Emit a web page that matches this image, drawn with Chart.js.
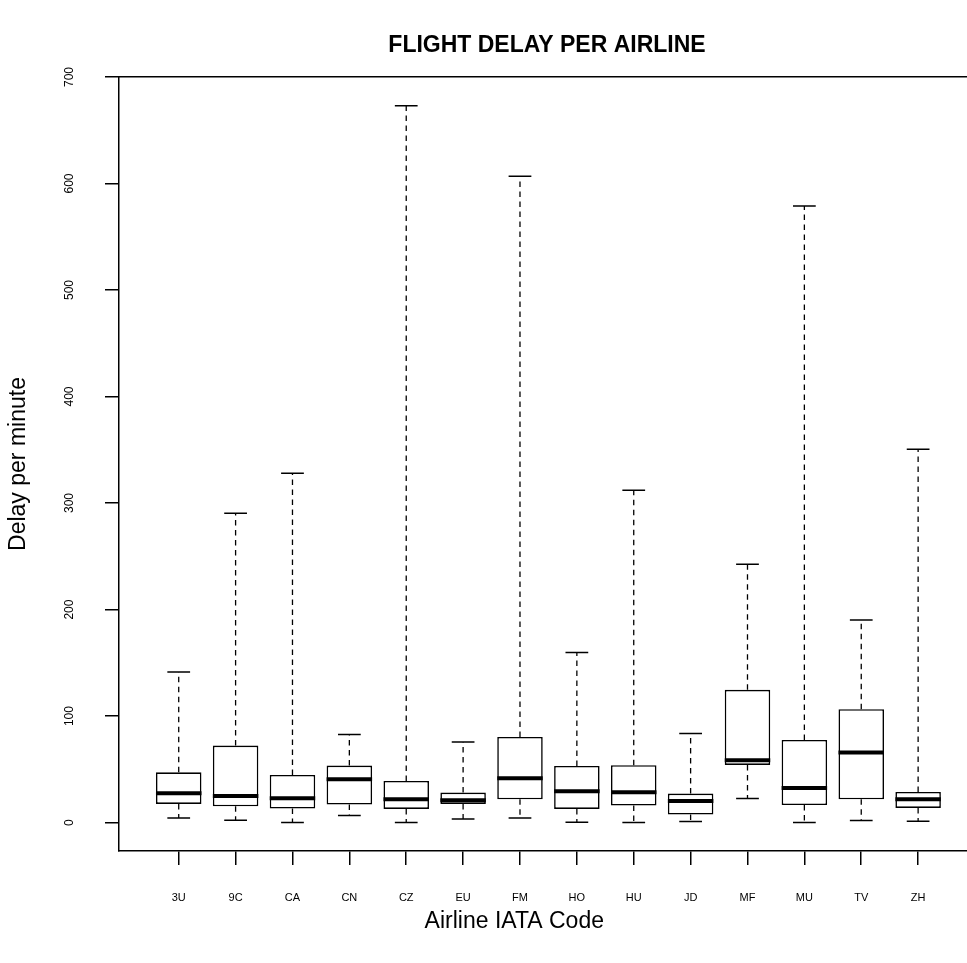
<!DOCTYPE html>
<html>
<head>
<meta charset="utf-8">
<script src="https://cdn.jsdelivr.net/npm/chart.js@4.4.0/dist/chart.umd.min.js"></script>
<style>
html,body{margin:0;padding:0;background:#fff;overflow:hidden;width:967px;height:963px;}
canvas{display:block;}
</style>
</head>
<body>
<canvas id="c" width="980" height="963"></canvas>
<script>
// ---- data ----
const categories   = ['3U','9C','CA','CN','CZ','EU','FM','HO','HU','JD','MF','MU','TV','ZH'];
const lowerWhisker = [4.3, 2.2, 0.0, 6.6, 0.0, 3.4, 4.3, 0.3, 0.0, 0.9, 22.5, 0.0, 1.9, 1.2];
const q1           = [17.5, 15.3, 13.1, 16.9, 12.8, 17.5, 21.9, 12.8, 16.0, 7.5, 54.1, 16.5, 21.9, 13.7];
const median       = [27.5, 25.0, 22.8, 40.7, 21.9, 21.0, 41.6, 29.4, 28.5, 20.3, 58.5, 32.5, 65.7, 21.9];
const q3           = [47.2, 72.3, 44.7, 53.5, 39.1, 28.2, 80.4, 53.2, 53.8, 27.2, 124.6, 77.6, 106.4, 28.7];
const upperWhisker = [141.3, 290.3, 328.0, 82.6, 673.1, 75.7, 606.7, 159.6, 311.9, 83.6, 242.5, 578.9, 190.2, 350.6];
const yTickValues  = [0, 100, 200, 300, 400, 500, 600, 700];

const TITLE = 'FLIGHT DELAY PER AIRLINE';
const X_TITLE = 'Airline IATA Code';
const Y_TITLE = 'Delay per minute';

// ---- geometry in data units of the category axis ----
const BOX_WIDTH = 0.8;
const STAPLE_WIDTH = 0.4;
const X_MIN = -0.05, X_MAX = 15;
const Y_MIN = -26.7, Y_MAX = 700;

const FONT = "'Liberation Sans', Arial, Helvetica, sans-serif";
Chart.defaults.font.family = FONT;
Chart.defaults.color = '#000';

const pos = categories.map((c, i) => i + 1);

const boxData = pos.map((p, i) => ({x: p, y: [q1[i], q3[i]]}));

const whiskerData = [];
pos.forEach((p, i) => {
  whiskerData.push({x: p, y: q3[i]}, {x: p, y: upperWhisker[i]}, {x: p, y: null});
  whiskerData.push({x: p, y: q1[i]}, {x: p, y: lowerWhisker[i]}, {x: p, y: null});
});

const stapleData = [];
pos.forEach((p, i) => {
  const h = STAPLE_WIDTH / 2;
  stapleData.push({x: p - h, y: upperWhisker[i]}, {x: p + h, y: upperWhisker[i]}, {x: p, y: null});
  stapleData.push({x: p - h, y: lowerWhisker[i]}, {x: p + h, y: lowerWhisker[i]}, {x: p, y: null});
});

const medianData = [];
pos.forEach((p, i) => {
  const h = BOX_WIDTH / 2;
  medianData.push({x: p - h, y: median[i]}, {x: p + h, y: median[i]}, {x: p, y: null});
});

const lineCommon = {
  type: 'line', xAxisID: 'x', yAxisID: 'y', pointRadius: 0, pointHoverRadius: 0,
  fill: false, spanGaps: false, tension: 0, borderColor: '#000', borderCapStyle: 'butt'
};

// x-axis title drawn as text below the axis (centred slightly left of the plot centre, as in the reference)
const xTitlePlugin = {
  id: 'xTitle',
  afterDraw(chart) {
    const ctx = chart.ctx;
    const xs = chart.scales.x;
    ctx.save();
    ctx.font = '23px ' + FONT;
    ctx.fillStyle = '#000';
    ctx.textAlign = 'center';
    ctx.textBaseline = 'middle';
    ctx.fillText(X_TITLE, xs.getPixelForValue(6.9), xs.bottom - 41);
    ctx.restore();
  }
};

new Chart(document.getElementById('c'), {
  type: 'line',
  data: {
    datasets: [
      Object.assign({}, lineCommon, {label: 'median', data: medianData, borderWidth: 4, order: 0}),
      Object.assign({}, lineCommon, {label: 'staples', data: stapleData, borderWidth: 1.5, order: 1}),
      Object.assign({}, lineCommon, {label: 'whiskers', data: whiskerData, borderWidth: 1.3, borderDash: [5.5, 4.5], order: 2}),
      {
        type: 'bar', label: 'IQR', xAxisID: 'x', yAxisID: 'y', data: boxData,
        backgroundColor: '#fff', borderColor: '#000', borderWidth: 1.6, borderSkipped: false,
        barPercentage: BOX_WIDTH, categoryPercentage: 1, grouped: false, order: 3
      }
    ]
  },
  options: {
    responsive: false,
    animation: false,
    events: [],
    devicePixelRatio: 1,
    layout: {padding: {left: 0, right: 5, top: 0, bottom: 0}},
    plugins: {
      legend: {display: false},
      tooltip: {enabled: false},
      title: {
        display: true, text: TITLE, color: '#000', fullSize: false,
        font: {size: 23, weight: 'bold', family: FONT, lineHeight: 1.2},
        padding: {top: 32.2, bottom: 17.2}
      }
    },
    scales: {
      x: {
        type: 'linear', position: 'bottom', min: X_MIN, max: X_MAX, offset: false,
        afterBuildTicks: s => { s.ticks = pos.map(v => ({value: v})); },
        afterFit: s => { s.height = 112; },
        ticks: {
          autoSkip: false, maxRotation: 0, minRotation: 0, padding: 26.4, color: '#000',
          font: {size: 11, family: FONT},
          callback: (v) => categories[Math.round(v) - 1] || ''
        },
        grid: {display: true, drawOnChartArea: false, drawTicks: true, tickLength: 14, color: '#000', lineWidth: 1.5, offset: false},
        border: {display: true, color: '#000', width: 1.5},
        title: {display: false}
      },
      xTop: {
        type: 'linear', position: 'top', min: X_MIN, max: X_MAX, offset: false,
        afterFit: s => { s.height = 0; },
        ticks: {display: false},
        grid: {display: false, drawTicks: false},
        border: {display: true, color: '#000', width: 1.5}
      },
      y: {
        type: 'linear', position: 'left', min: Y_MIN, max: Y_MAX,
        afterBuildTicks: s => { s.ticks = yTickValues.map(v => ({value: v})); },
        afterFit: s => { s.width = 119; },
        ticks: {
          minRotation: 90, maxRotation: 90, crossAlign: 'center', padding: 25, color: '#000',
          font: {size: 12, family: FONT},
          callback: (v) => String(v)
        },
        grid: {display: true, drawOnChartArea: false, drawTicks: true, tickLength: 14, color: '#000', lineWidth: 1.5},
        border: {display: true, color: '#000', width: 1.5},
        title: {display: true, text: Y_TITLE, color: '#000', font: {size: 23, family: FONT, lineHeight: 1.2}, padding: {top: 5, bottom: 0}}
      }
    }
  },
  plugins: [xTitlePlugin]
});
</script>
</body>
</html>
